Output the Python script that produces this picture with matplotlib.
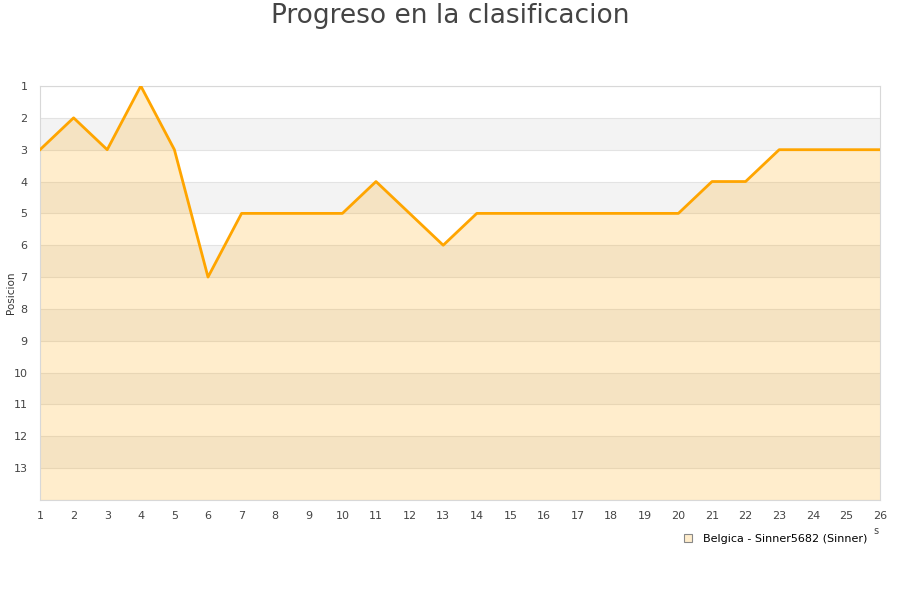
import matplotlib
matplotlib.use("Agg")
import matplotlib.pyplot as plt
from matplotlib.lines import Line2D

# Datos
jornadas = list(range(1, 27))
posiciones = [3, 2, 3, 1, 3, 7, 5, 5, 5, 5, 4, 5, 6, 5, 5, 5, 5, 5, 5, 5, 4, 4, 3, 3, 3, 3]
equipo = 'Belgica - Sinner5682 (Sinner)'
y_ticks = list(range(1, 14))

fig = plt.figure(figsize=(9, 6), dpi=100)
ax = fig.add_axes([40 / 900, 100 / 600, 840 / 900, 414 / 600])

ax.set_xlim(1, 26)
ax.set_ylim(14, 1)

# Franjas alternas
for k in range(2, 14, 2):
    ax.axhspan(k, k + 1, color='#f3f3f3', zorder=0, lw=0)
for k in range(1, 15):
    ax.axhline(k, color='#e3e3e3', lw=0.8, zorder=1)

ax.fill_between(jornadas, posiciones, 14, color='#FFA500', alpha=0.2, lw=0, zorder=2)
ax.plot(jornadas, posiciones, color='#FFA500', lw=2, zorder=3)

ax.set_xticks(jornadas)
ax.set_yticks(y_ticks)
ax.tick_params(length=0, labelsize=8, colors='#444444')
ax.tick_params(axis='x', pad=8)
ax.tick_params(axis='y', pad=9)
for s in ax.spines.values():
    s.set_color('#d8d8d8')
    s.set_linewidth(0.8)

fig.text(11 / 900, 1 - 293 / 600, 'Posicion', fontsize=7.5, color='#333333',
         rotation=90, ha='center', va='center')
fig.suptitle('Progreso en la clasificacion', fontsize=19, color='#444444', y=0.995)

handle = Line2D([], [], marker='s', ls='none', markersize=6,
                markerfacecolor='#FFEDCC', markeredgecolor='#888888', markeredgewidth=0.8)
fig.legend([handle], [equipo], loc='center right', bbox_to_anchor=(0.975, 1 - 539 / 600),
           frameon=False, fontsize=8, handletextpad=0.4)
fig.text(873 / 900, 1 - 531 / 600, 's', fontsize=7, color='#444444', va='center')

fig.savefig('out.png', dpi=100)
